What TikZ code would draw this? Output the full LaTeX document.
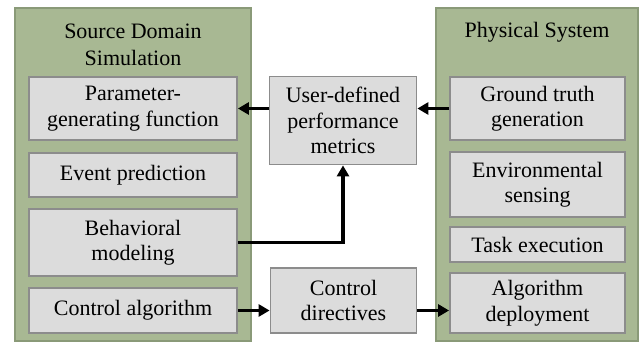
\documentclass[tikz,border=0pt]{standalone}
\usepackage{fontspec}
\setmainfont{Liberation Serif}
\usetikzlibrary{arrows.meta}
\definecolor{grn}{HTML}{A8B893}
\definecolor{grnline}{HTML}{8A9A78}
\definecolor{boxfill}{HTML}{DCDCDC}
\definecolor{boxline}{HTML}{8C8C8C}
\begin{document}
\begin{tikzpicture}[x=1pt,y=-1pt,
  container/.style={draw=grnline,fill=grn,line width=1.8pt},
  box/.style={draw=boxline,fill=boxfill,line width=1.8pt,align=center,inner sep=0pt,
    font=\fontsize{22}{25.5}\selectfont},
  ttl/.style={align=center,inner sep=0pt,font=\fontsize{22}{27}\selectfont},
  arr/.style={line width=3.6pt,-{Triangle[length=11pt,width=12pt]}}]
\useasboundingbox (0,0) rectangle (641,344);
% containers
\draw[container] (15,8) rectangle (251,341);
\draw[container] (436,8) rectangle (638,341);
\node[ttl] (t1) at (133,45) {Source Domain\\Simulation};
\node[ttl] (t2) at (537,32) {Physical System};
% left boxes
\node[box,minimum width=208pt,minimum height=63pt] (param) at (133,108.5) {Parameter-\\generating function};
\node[box,minimum width=208pt,minimum height=44pt] (event) at (133,175) {Event prediction};
\node[box,minimum width=208pt,minimum height=67pt] (behav) at (133,242.5) {Behavioral\\modeling};
\node[box,minimum width=208pt,minimum height=45pt] (ctrl) at (133,310.5) {Control algorithm};
% middle
\node[box,minimum width=147pt,minimum height=88pt] (udpm) at (343,120.5) {User-defined\\performance\\metrics};
\node[box,minimum width=146pt,minimum height=65pt] (cdir) at (343.5,300.5) {Control\\directives};
% right boxes
\node[box,minimum width=175pt,minimum height=63pt] (ground) at (537.5,108.5) {Ground truth\\generation};
\node[box,minimum width=175pt,minimum height=65pt] (env) at (537.5,184.5) {Environmental\\sensing};
\node[box,minimum width=175pt,minimum height=35pt] (task) at (537.5,244.5) {Task execution};
\node[box,minimum width=175pt,minimum height=60pt] (alg) at (537.5,303) {Algorithm\\deployment};
% arrows
\draw[arr] (ground.west |- param.east) -- (udpm.east |- param.east);
\draw[arr] (udpm.west |- param.east) -- (param.east);
\draw[arr] (behav.east) -| (udpm.south);
\draw[arr] (ctrl.east) -- (cdir.west |- ctrl.east);
\draw[arr] (cdir.east |- ctrl.east) -- (alg.west |- ctrl.east);
\end{tikzpicture}
\end{document}
